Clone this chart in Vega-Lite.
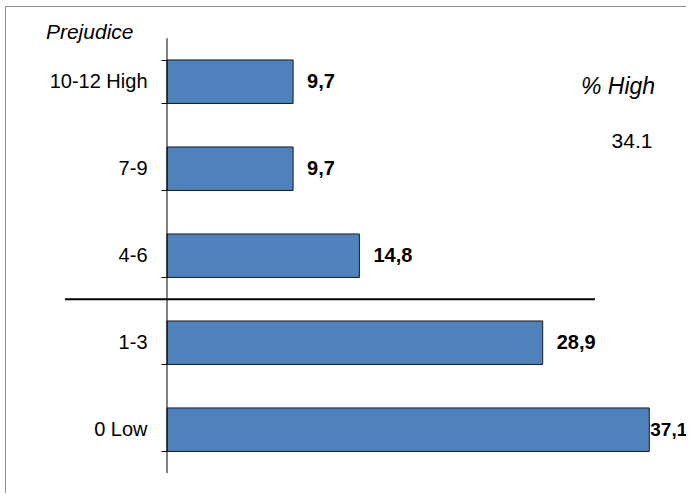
{
  "$schema": "https://vega.github.io/schema/vega-lite/v6.json",
  "width": 681,
  "height": 487,
  "autosize": {"type": "none"},
  "padding": {"left": 5, "top": 6, "right": 0, "bottom": 0},
  "background": "white",
  "config": {
    "font": "Liberation Sans",
    "view": {"stroke": "#8c8c8c", "strokeWidth": 1}
  },
  "datasets": {
    "bars": [
      {"cat": "10-12 High", "value": 9.7, "label": "9,7"},
      {"cat": "7-9", "value": 9.7, "label": "9,7"},
      {"cat": "4-6", "value": 14.8, "label": "14,8"},
      {"cat": "1-3", "value": 28.9, "label": "28,9"},
      {"cat": "0 Low", "value": 37.1, "label": "37,1"}
    ],
    "one": [{"note": "% High", "high": "34.1"}]
  },
  "layer": [
    {
      "data": {"name": "bars"},
      "mark": {"type": "bar", "color": "#4F81BD", "stroke": "#1a1a1a", "strokeWidth": 1},
      "encoding": {
        "y": {
          "field": "cat",
          "type": "nominal",
          "sort": ["10-12 High", "7-9", "4-6", "1-3", "0 Low"],
          "scale": {"paddingInner": 0.5, "paddingOuter": 0.549, "align": 0.565},
          "axis": {
            "title": "Prejudice",
            "titleAngle": 0,
            "titleAlign": "right",
            "titleBaseline": "alphabetic",
            "titleX": -34,
            "titleY": 32,
            "titleFont": "Liberation Sans",
            "titleFontSize": 21,
            "titleFontStyle": "italic",
            "titleFontWeight": "normal",
            "titleColor": "black",
            "offset": -162,
            "domain": false,
            "tickBand": "extent",
            "tickColor": "black",
            "tickSize": 6,
            "labelFontSize": 20,
            "labelColor": "black",
            "labelPadding": 14,
            "grid": false
          }
        },
        "x": {
          "field": "value",
          "type": "quantitative",
          "scale": {"domain": [-12.4615, 39.923], "nice": false, "zero": false},
          "axis": null
        }
      }
    },
    {
      "data": {"name": "bars"},
      "transform": [{"filter": "datum.value < 35"}],
      "mark": {"type": "text", "align": "left", "baseline": "middle", "dx": 14, "fontWeight": "bold", "fontSize": 20, "color": "black"},
      "encoding": {
        "y": {"field": "cat", "type": "nominal", "sort": ["10-12 High", "7-9", "4-6", "1-3", "0 Low"]},
        "x": {"field": "value", "type": "quantitative"},
        "text": {"field": "label"}
      }
    },
    {
      "data": {"name": "bars"},
      "transform": [{"filter": "datum.value >= 35"}],
      "mark": {"type": "text", "align": "left", "baseline": "middle", "dx": 1, "fontWeight": "bold", "fontSize": 19, "color": "black"},
      "encoding": {
        "y": {"field": "cat", "type": "nominal", "sort": ["10-12 High", "7-9", "4-6", "1-3", "0 Low"]},
        "x": {"field": "value", "type": "quantitative"},
        "text": {"field": "label"}
      }
    },
    {
      "data": {"name": "one"},
      "mark": {"type": "rule", "color": "black", "strokeWidth": 1},
      "encoding": {
        "x": {"datum": 0, "type": "quantitative"},
        "y": {"datum": "10-12 High", "type": "nominal", "bandPosition": -0.5},
        "y2": {"datum": "0 Low", "bandPosition": 1.5}
      }
    },
    {
      "data": {"name": "one"},
      "mark": {"type": "rule", "color": "black", "strokeWidth": 2},
      "encoding": {
        "x": {"datum": -7.85, "type": "quantitative"},
        "x2": {"datum": 32.92},
        "y": {"datum": "4-6", "type": "nominal", "bandPosition": 1.5}
      }
    },
    {
      "data": {"name": "one"},
      "mark": {"type": "text", "align": "center", "baseline": "middle", "fontSize": 23, "fontStyle": "italic", "fontWeight": "normal", "color": "black", "dy": 5},
      "encoding": {
        "x": {"datum": 34.7, "type": "quantitative"},
        "y": {"datum": "10-12 High", "type": "nominal"},
        "text": {"field": "note"}
      }
    },
    {
      "data": {"name": "one"},
      "mark": {"type": "text", "align": "center", "baseline": "middle", "fontSize": 21, "fontWeight": "normal", "color": "black", "dy": 60},
      "encoding": {
        "x": {"datum": 35.77, "type": "quantitative"},
        "y": {"datum": "10-12 High", "type": "nominal"},
        "text": {"field": "high"}
      }
    }
  ]
}
